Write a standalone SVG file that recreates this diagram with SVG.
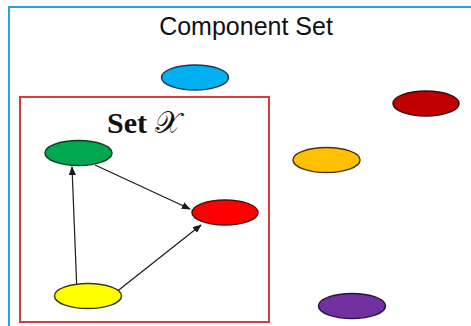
<svg xmlns="http://www.w3.org/2000/svg" width="471" height="326" viewBox="0 0 471 326">
<defs>
<style>
.node{stroke-width:1.5}
.conn{stroke:#1a1a1a;stroke-width:1.2;fill:none;marker-end:url(#ah)}
.title{font-family:"Liberation Sans",Arial,sans-serif;font-size:25px;fill:#111}
.setx{font-family:"Liberation Serif","Times New Roman",serif;font-size:30px;font-weight:bold;fill:#111}
</style>
<marker id="ah" viewBox="0 0 10 10" refX="9" refY="5" markerWidth="9" markerHeight="9" markerUnits="userSpaceOnUse" orient="auto">
<path d="M0,1 L10,5 L0,9 z" fill="#1a1a1a"/>
</marker>
</defs>
<rect width="471" height="326" fill="#fff"/>
<rect x="9" y="7" width="470" height="330" fill="none" stroke="#22a4dc" stroke-width="2"/>
<text class="title" x="246" y="35" text-anchor="middle">Component Set</text>
<g id="setX">
<rect x="20" y="97" width="249" height="225" fill="none" stroke="#d93a3a" stroke-width="2"/>
<text class="setx" x="107" y="133">Set <tspan font-weight="normal" font-family="'DejaVu Serif','Noto Sans',serif">𝒳</tspan></text>
</g>
<g id="connectors">
<line class="conn" x1="95" y1="165" x2="190" y2="209"/>
<line class="conn" x1="77" y1="293" x2="72" y2="167"/>
<line class="conn" x1="115" y1="293" x2="201" y2="225"/>
</g>
<g id="n-blue"><ellipse class="node" cx="195" cy="77.5" rx="33.5" ry="12.5" fill="#00b0f0" stroke="#1f3550"/></g>
<g id="n-darkred"><ellipse class="node" cx="426" cy="103.5" rx="33" ry="12.5" fill="#c00000" stroke="#3a0a0a"/></g>
<g id="n-orange"><ellipse class="node" cx="326.5" cy="160" rx="33.5" ry="12.5" fill="#ffc000" stroke="#4a3410"/></g>
<g id="n-purple"><ellipse class="node" cx="352" cy="306" rx="33.5" ry="12.5" fill="#7030a0" stroke="#2a1440"/></g>
<g id="n-green"><ellipse class="node" cx="78.5" cy="153" rx="33.5" ry="12.5" fill="#00a850" stroke="#0f3a20"/></g>
<g id="n-red"><ellipse class="node" cx="225" cy="212.5" rx="33" ry="12.5" fill="#ff0000" stroke="#4a1010"/></g>
<g id="n-yellow"><ellipse class="node" cx="88" cy="296" rx="33.5" ry="12.5" fill="#ffff00" stroke="#3a3a10"/></g>
</svg>
